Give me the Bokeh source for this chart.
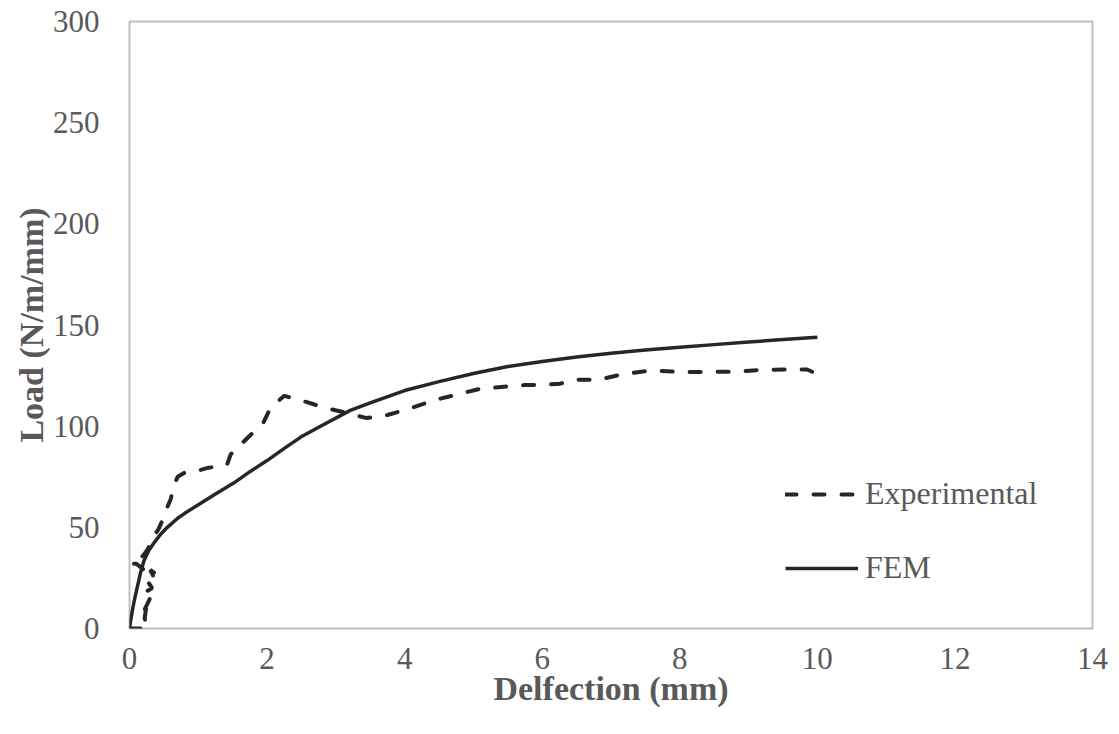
from bokeh.plotting import figure
from bokeh.models import Range1d, FixedTicker, Legend, LegendItem
from bokeh.embed import file_html
from bokeh.resources import INLINE

# Experimental data (deflection mm, load N/m/mm)
exp_x = [0.0, 0.27, 0.22, 0.25, 0.20, 0.30, 0.18, 0.33, 0.25, 0.38, 0.30, 0.36, 0.10, 0.02,
         0.12, 0.20, 0.26, 0.31, 0.36, 0.42, 0.50, 0.55, 0.60, 0.64, 0.70, 0.80, 1.00, 1.15,
         1.30, 1.42, 1.47, 1.55, 1.65, 1.80, 1.95, 2.05, 2.25, 2.50, 2.80, 3.10, 3.45, 3.75,
         4.10, 4.45, 4.80, 5.10, 5.45, 5.75, 6.00, 6.26, 6.48, 6.83, 7.18, 7.59, 8.00, 8.40,
         8.80, 9.19, 9.60, 9.85, 10.0]
exp_y = [0.0, 0.0, 5, 12, 8, 15, 17, 20, 24, 27, 29, 25, 32, 32,
         34, 36, 39, 42, 46, 49, 55, 60, 64, 70, 75, 77, 78, 79.5,
         80, 81, 86, 89, 92, 97, 102, 109, 115, 112.7, 109.5, 107, 104, 105.5,
         109, 113, 116, 118.5, 119.5, 120.3, 120.5, 121, 123, 123, 125.8, 127.5, 126.8, 126.8,
         127, 127.8, 128, 128, 125.8]

# FEM data
fem_x = [0.0, 0.02, 0.05, 0.08, 0.11, 0.16, 0.21, 0.28, 0.35, 0.45, 0.55, 0.70, 0.85, 1.03,
         1.25, 1.52, 1.75, 2.0, 2.25, 2.49, 2.75, 3.21, 3.5, 4.0, 4.5, 5.0, 5.5, 6.0, 6.5,
         7.0, 7.5, 8.0, 8.5, 9.0, 9.5, 10.0]
fem_y = [0.0, 4.5, 10.5, 15.5, 20.0, 27.5, 33.5, 38.5, 42.0, 46.5, 50.0, 54.5, 58.0, 61.8,
         66.5, 72.0, 77.5, 83.0, 89.0, 94.6, 99.5, 107.8, 111.5, 117.6, 122.0, 126.0, 129.5,
         132.0, 134.2, 136.0, 137.6, 139.0, 140.3, 141.6, 142.8, 144.0]

x_ticks = [0, 2, 4, 6, 8, 10, 12, 14]
y_ticks = [0, 50, 100, 150, 200, 250, 300]

FONT = "Liberation Serif"
GRAY = "#595959"
LINE = "#262626"

p = figure(width=1110, height=725, output_backend="svg", toolbar_location=None,
           x_range=Range1d(0, 14), y_range=Range1d(0, 300),
           min_border_left=129, min_border_right=18, min_border_top=21, min_border_bottom=97)

p.xgrid.grid_line_color = None
p.ygrid.grid_line_color = None
p.outline_line_color = "#bfbfbf"
p.outline_line_width = 2
p.background_fill_color = "white"
p.border_fill_color = "white"

for ax in (p.xaxis[0], p.yaxis[0]):
    ax.axis_line_color = None
    ax.major_tick_line_color = None
    ax.minor_tick_line_color = None
    ax.major_label_text_font = FONT
    ax.major_label_text_font_size = "31px"
    ax.major_label_text_color = GRAY
    ax.axis_label_text_font = FONT
    ax.axis_label_text_font_size = "34px"
    ax.axis_label_text_font_style = "bold"
    ax.axis_label_text_color = GRAY

p.xaxis.ticker = FixedTicker(ticks=x_ticks)
p.yaxis.ticker = FixedTicker(ticks=y_ticks)
p.xaxis.axis_label = "Delfection (mm)"
p.yaxis.axis_label = "Load (N/m/mm)"
p.xaxis.major_label_standoff = 13
p.yaxis.major_label_standoff = 24
p.xaxis.axis_label_standoff = -2
p.yaxis.axis_label_standoff = 0

r_exp = p.line(exp_x, exp_y, line_color=LINE, line_width=4, line_dash="11 17", line_cap="round")
r_fem = p.line(fem_x, fem_y, line_color=LINE, line_width=3.5)

legend = Legend(items=[LegendItem(label="Experimental", renderers=[r_exp]),
                       LegendItem(label="FEM", renderers=[r_fem])],
                location=(656, 42), orientation="vertical")
legend.glyph_width = 73
legend.glyph_height = 30
legend.spacing = 37
legend.label_standoff = 7
legend.padding = 0
legend.margin = 0
legend.border_line_color = None
legend.background_fill_alpha = 0
legend.label_text_font = FONT
legend.label_text_font_size = "32px"
legend.label_text_color = GRAY
p.add_layout(legend, "center")

open("out.html", "w").write(file_html(p, INLINE))
